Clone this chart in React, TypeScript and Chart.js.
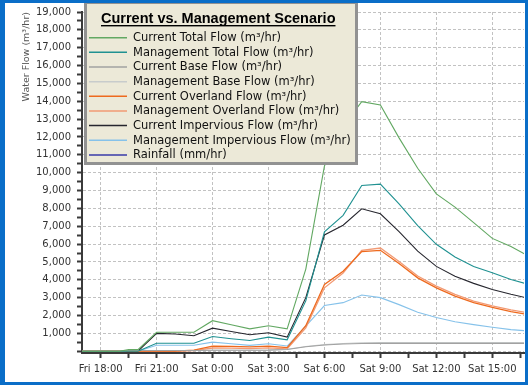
import React, { useEffect, useRef } from 'react';
import { Chart, registerables } from 'chart.js';

Chart.register(...registerables);

// Hours since Friday 00:00 (24 = Sat 0:00)
const hours = [17, 18, 19, 19.5, 20, 21, 22, 23, 24, 25, 26, 27, 28, 29, 30, 31, 32, 33, 34, 35, 36, 37, 38, 39, 40, 41];

const currentTotal = [0, 0, 0, 90, 90, 1060, 1060, 1060, 1710, 1480, 1250, 1430, 1250, 4600, 10380, 12600, 13980, 13790, 11950, 10250, 8810, 8070, 7200, 6320, 5860, 5300];
const managementTotal = [0, 0, 0, 0, 0, 450, 450, 450, 820, 700, 600, 790, 640, 2820, 6690, 7610, 9280, 9360, 8250, 7040, 5990, 5280, 4750, 4400, 4020, 3720];
const currentBase = [0, 0, 0, 40, 40, 40, 40, 40, 50, 50, 50, 60, 100, 250, 350, 400, 430, 440, 440, 440, 440, 440, 440, 440, 440, 440];
const managementBase = [0, 0, 0, 40, 40, 40, 40, 40, 50, 50, 50, 60, 110, 260, 370, 430, 470, 480, 480, 480, 480, 480, 480, 480, 480, 480];
const currentOverland = [0, 0, 0, 0, 0, 0, 0, 60, 290, 270, 240, 290, 200, 1430, 3740, 4480, 5580, 5650, 4910, 4110, 3550, 3090, 2720, 2450, 2220, 2030];
const managementOverland = [0, 0, 0, 0, 0, 0, 0, 30, 180, 170, 150, 190, 130, 1300, 3550, 4380, 5650, 5780, 5020, 4210, 3650, 3180, 2810, 2540, 2320, 2140];
const currentImpervious = [0, 0, 0, 0, 0, 1000, 960, 870, 1290, 1100, 920, 1030, 790, 3000, 6510, 7060, 7980, 7700, 6700, 5610, 4750, 4200, 3800, 3460, 3190, 2950];
const managementImpervious = [0, 0, 0, 0, 0, 330, 330, 330, 510, 420, 330, 420, 290, 1400, 2560, 2720, 3150, 3000, 2610, 2180, 1890, 1650, 1490, 1340, 1210, 1130];
const rainfall = [0, 0, 0, 1, 2, 6, 4, 3, 8, 5, 3, 5, 4, 14, 10, 4, 2, 1, 0, 0, 0, 0, 0, 0, 0, 0];

const seriesLabels = [
  'Current Total Flow (m³/hr)',
  'Management Total Flow (m³/hr)',
  'Current Base Flow (m³/hr)',
  'Management Base Flow (m³/hr)',
  'Current Overland Flow (m³/hr)',
  'Management Overland Flow (m³/hr)',
  'Current Impervious Flow (m³/hr)',
  'Management Impervious Flow (m³/hr)',
  'Rainfall (mm/hr)',
];
const seriesValues = [
  currentTotal, managementTotal, currentBase, managementBase,
  currentOverland, managementOverland, currentImpervious, managementImpervious, rainfall,
];
const seriesColors = [
  '#62a862', '#1f9191', '#a2a2a2', '#c8cccc', '#ee6a1e', '#f29a74', '#26262e', '#86c2ea', '#3a3aa8',
];
// Rainfall is listed in the legend but not visible in the plot area of the reference
const seriesHidden = [false, false, false, false, false, false, false, false, true];

const xTickHours = [18, 21, 24, 27, 30, 33, 36, 39];
const xTickLabels = ['Fri 18:00', 'Fri 21:00', 'Sat 0:00', 'Sat 3:00', 'Sat 6:00', 'Sat 9:00', 'Sat 12:00', 'Sat 15:00'];

const legendTitle = 'Current vs. Management Scenario';
const yTitle = 'Water Flow (m³/hr)';

const FRAME = '#0a6ec8';
const AXIS = '#3a3a3a';
const GRID = '#c2c2c2';

const boxLegend = {
  id: 'boxLegend',
  afterDraw(chart: any) {
    const ctx = chart.ctx as CanvasRenderingContext2D;
    ctx.save();
    ctx.fillStyle = '#ECE9D8';
    ctx.fillRect(84, 1, 274, 164);
    ctx.strokeStyle = '#929292';
    ctx.lineWidth = 3;
    ctx.strokeRect(85.5, 2.5, 271, 161);

    ctx.font = 'bold 14.5px "Liberation Sans"';
    ctx.fillStyle = '#000';
    ctx.textAlign = 'left';
    ctx.textBaseline = 'alphabetic';
    ctx.fillText(legendTitle, 101, 23.3);
    const w = ctx.measureText(legendTitle).width;
    ctx.fillRect(101, 25, w, 1.4);

    ctx.font = '11.5px "DejaVu Sans"';
    ctx.textBaseline = 'middle';
    chart.data.datasets.forEach((ds: any, i: number) => {
      const y = 37.7 + i * 14.65;
      ctx.strokeStyle = ds.borderColor;
      ctx.lineWidth = 1.5;
      ctx.beginPath();
      ctx.moveTo(89, y);
      ctx.lineTo(127, y);
      ctx.stroke();
      ctx.fillStyle = '#111';
      ctx.fillText(ds.label, 133, y + 0.5);
    });

    ctx.fillStyle = FRAME;
    ctx.fillRect(0, 0, 528, 3);
    ctx.fillRect(0, 0, 5, 385);
    ctx.fillRect(525, 0, 3, 385);
    ctx.fillRect(0, 382, 528, 3);
    ctx.restore();
  },
};

export default function App() {
  const ref = useRef<HTMLCanvasElement | null>(null);

  useEffect(() => {
    if (!ref.current) return;
    const datasets = seriesLabels.map((label, i) => ({
      label,
      data: hours.map((h, j) => ({ x: h, y: seriesValues[i][j] })),
      borderColor: seriesColors[i],
      backgroundColor: seriesColors[i],
      borderWidth: i === 4 || i === 5 ? 1.3 : 1.1,
      pointRadius: 0,
      tension: 0,
      fill: false,
      hidden: seriesHidden[i],
    }));

    const chart = new Chart(ref.current, {
      type: 'line',
      data: { datasets },
      plugins: [boxLegend],
      options: {
        responsive: false,
        animation: false,
        layout: { padding: { top: 8, right: 4, left: 0, bottom: 0 } },
        plugins: { legend: { display: false }, tooltip: { enabled: false } },
        scales: {
          x: {
            type: 'linear',
            min: 17,
            max: 40.7,
            afterFit: (s: any) => { s.height = 32; },
            afterBuildTicks: (s: any) => {
              const t: any[] = [];
              for (let v = 18; v <= 40.7; v += 1.5) t.push({ value: v });
              s.ticks = t;
            },
            ticks: {
              autoSkip: false,
              maxRotation: 0,
              padding: 5,
              color: '#333',
              font: { family: '"DejaVu Sans"', size: 10 },
              callback: (v: any) => {
                const k = xTickHours.indexOf(Number(v));
                return k >= 0 ? xTickLabels[k] : '';
              },
            },
            grid: {
              color: (c: any) => (c.tick && xTickHours.includes(c.tick.value) ? GRID : 'rgba(0,0,0,0)'),
              lineWidth: 1,
              tickColor: AXIS,
              tickLength: 5,
              tickWidth: 2,
            },
            border: { display: true, color: AXIS, width: 2, dash: [3, 2] },
          },
          y: {
            type: 'linear',
            min: -100,
            max: 19000,
            afterFit: (s: any) => { s.width = 82; },
            afterBuildTicks: (s: any) => {
              const t: any[] = [];
              for (let v = 0; v <= 19000; v += 500) t.push({ value: v });
              s.ticks = t;
            },
            ticks: {
              autoSkip: false,
              padding: 6,
              color: '#333',
              font: { family: '"DejaVu Sans"', size: 10 },
              callback: (v: any) => {
                const n = Number(v);
                return n !== 0 && n % 1000 === 0 ? n.toLocaleString('en-US') : '';
              },
            },
            title: {
              display: true,
              text: yTitle,
              align: 'end',
              color: '#555',
              font: { family: '"DejaVu Sans"', size: 9.5 },
              padding: { top: 21, bottom: 0 },
            },
            grid: {
              color: (c: any) => (c.tick && c.tick.value % 1000 === 0 ? GRID : 'rgba(0,0,0,0)'),
              lineWidth: 1,
              tickColor: AXIS,
              tickLength: 5,
              tickWidth: 2,
            },
            border: { display: true, color: AXIS, width: 2, dash: [3, 2] },
          },
        },
      } as any,
    });
    return () => chart.destroy();
  }, []);

  return (
    <div style={{ position: 'absolute', left: 0, top: 0, width: 528, height: 385, background: '#fff' }}>
      <canvas ref={ref} width={528} height={385} style={{ width: 528, height: 385, display: 'block' }} />
    </div>
  );
}
